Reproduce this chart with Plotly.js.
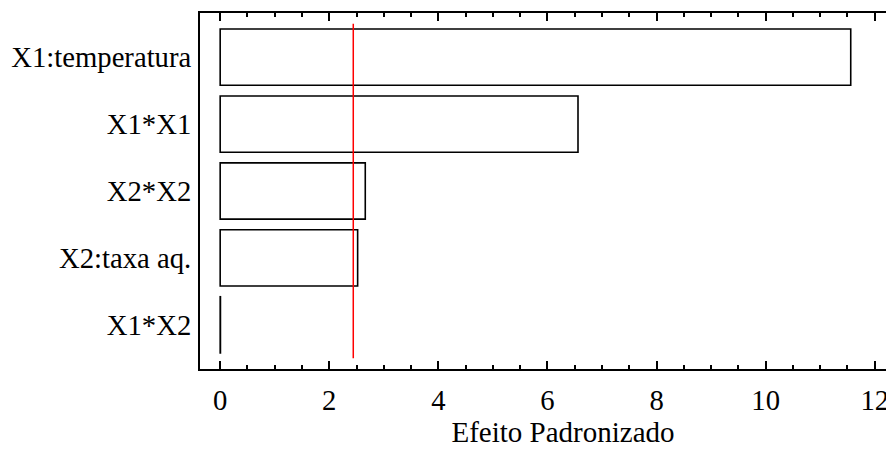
<!DOCTYPE html>
<html>
<head>
<meta charset="utf-8">
<script src="https://cdn.plot.ly/plotly-3.0.1.min.js"></script>
<style>
html, body { margin: 0; padding: 0; overflow: hidden; background: #fff; width: 886px; height: 453px; }
#chart { width: 936px; height: 453px; }
</style>
</head>
<body>
<div id="chart"></div>
<script>
// Data (Pareto chart of standardized effects)
const factors = ["X1:temperatura", "X1*X1", "X2*X2", "X2:taxa aq.", "X1*X2"];
const effects = [11.56, 6.56, 2.66, 2.52, 0.005];
const criticalValue = 2.44;
const xTickVals = [0, 2, 4, 6, 8, 10, 12];
const xTitle = "Efeito Padronizado";

const font = "'Times New Roman', 'Liberation Serif', Times, serif";

const barTrace = {
  type: "bar",
  orientation: "h",
  y: factors,
  x: effects,
  width: 0.84,
  marker: { color: "#ffffff", line: { color: "#000000", width: 1.6 } },
  hoverinfo: "x+y"
};

const layout = {
  width: 936,
  height: 453,
  margin: { l: 200, r: 10, t: 13, b: 84 },
  paper_bgcolor: "#ffffff",
  plot_bgcolor: "#ffffff",
  showlegend: false,
  font: { family: font, size: 28.7, color: "#000" },
  xaxis: {
    range: [-0.37, 12.94],
    tickvals: xTickVals,
    ticktext: xTickVals.map(String),
    ticks: "inside",
    ticklen: 8,
    tickwidth: 2,
    tickcolor: "#000",
    minor: { dtick: 0.5, tick0: 0, ticks: "inside", ticklen: 4, tickwidth: 2, tickcolor: "#000", showgrid: false },
    showline: true,
    linewidth: 2,
    linecolor: "#000",
    mirror: "ticks",
    showgrid: false,
    zeroline: false,
    ticklabelstandoff: 5,
    tickfont: { family: font, size: 28.7, color: "#000" },
    title: { text: xTitle, font: { family: font, size: 29, color: "#000" }, standoff: 5 }
  },
  yaxis: {
    type: "category",
    range: [4.66, -0.66],
    ticks: "",
    showline: true,
    linewidth: 2,
    linecolor: "#000",
    mirror: true,
    showgrid: false,
    zeroline: false,
    ticklabelstandoff: 1,
    tickfont: { family: font, size: 28.7, color: "#000" }
  },
  shapes: [{
    type: "line",
    xref: "x", yref: "y",
    x0: criticalValue, x1: criticalValue,
    y0: -0.5, y1: factors.length - 0.5,
    line: { color: "#ff0000", width: 1.5 }
  }]
};

Plotly.newPlot("chart", [barTrace], layout, { displayModeBar: false, staticPlot: true });
</script>
</body>
</html>
